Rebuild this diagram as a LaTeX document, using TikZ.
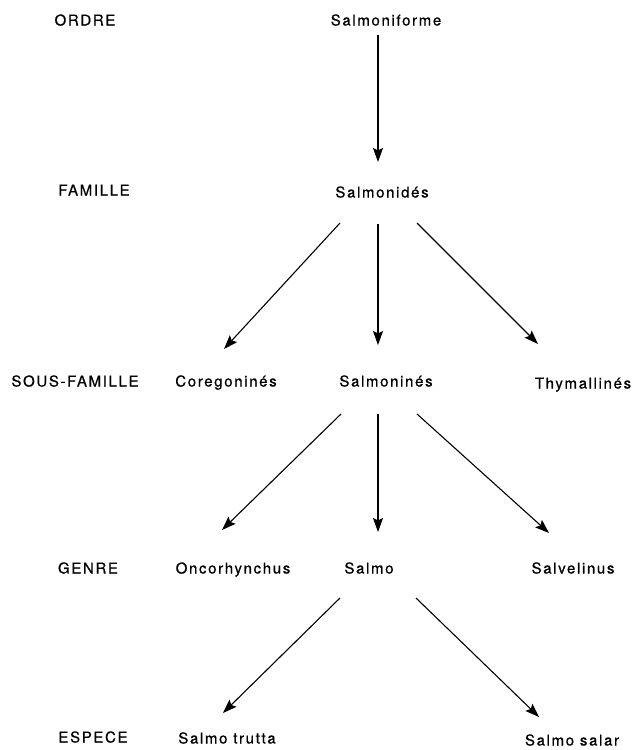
\documentclass[tikz,border=0pt]{standalone}
\usepackage{fontspec}
\setmainfont{TeX Gyre Heros}[LetterSpace=11, FakeBold=0.6]
\usetikzlibrary{arrows.meta}

\tikzstyle{rang} = [font=\fontsize{15}{18}\selectfont, text height=11pt, text depth=0pt, inner sep=0pt]
\tikzstyle{taxon} = [rang]
\tikzstyle{fleche} = [line width=1.1pt, -{Stealth[length=14pt,width=10pt,inset=2.5pt]}]

\begin{document}
\begin{tikzpicture}[x=1pt, y=-1pt]
\useasboundingbox (0,0) rectangle (633,750);
%begin rangs
\node[rang] (ordre) at (85,20) {ORDRE};
\node[rang] (famille) at (94,190) {FAMILLE};
\node[rang] (sousfamille) at (75,381) {SOUS-FAMILLE};
\node[rang] (genre) at (88,568) {GENRE};
\node[rang] (espece) at (93,737) {ESPECE};
%end rangs
%begin taxons
\node[taxon] (salmoniforme) at (386,20) {Salmoniforme};
\node[taxon] (salmonides) at (382,192) {Salmonidés};
\node[taxon] (coregonines) at (226,381) {Coregoninés};
\node[taxon] (salmonines) at (386,381) {Salmoninés};
\node[taxon] (thymallines) at (583,383) {Thymallinés};
\node[taxon] (oncorhynchus) at (233,568) {Oncorhynchus};
\node[taxon] (salmo) at (369,568) {Salmo};
\node[taxon] (salvelinus) at (573,568) {Salvelinus};
\node[taxon] (trutta) at (227,738) {Salmo trutta};
\node[taxon] (salar) at (572,740) {Salmo salar};
%end taxons
%begin fleches
\draw[fleche] ([xshift=-8pt,yshift=-15pt]salmoniforme.center) -- ([xshift=-4pt,yshift=30pt]salmonides.center);
\draw[fleche] ([xshift=-42pt,yshift=-31pt]salmonides.center) -- ([xshift=-2pt,yshift=32pt]coregonines.center);
\draw[fleche] ([xshift=-4pt,yshift=-32pt]salmonides.center) -- ([xshift=-8pt,yshift=36pt]salmonines.center);
\draw[fleche] ([xshift=35pt,yshift=-31pt]salmonides.center) -- ([xshift=-45pt,yshift=39pt]thymallines.center);
\draw[fleche] ([xshift=-45pt,yshift=-33pt]salmonines.center) -- ([xshift=-11pt,yshift=38pt]oncorhynchus.center);
\draw[fleche] ([xshift=-8pt,yshift=-33pt]salmonines.center) -- ([xshift=9pt,yshift=36pt]salmo.center);
\draw[fleche] ([xshift=31pt,yshift=-33pt]salmonines.center) -- ([xshift=-24pt,yshift=35pt]salvelinus.center);
\draw[fleche] ([xshift=-29pt,yshift=-30pt]salmo.center) -- ([xshift=-4pt,yshift=25pt]trutta.center);
\draw[fleche] ([xshift=47pt,yshift=-30pt]salmo.center) -- ([xshift=-33pt,yshift=23pt]salar.center);
%end fleches
\end{tikzpicture}
\end{document}
